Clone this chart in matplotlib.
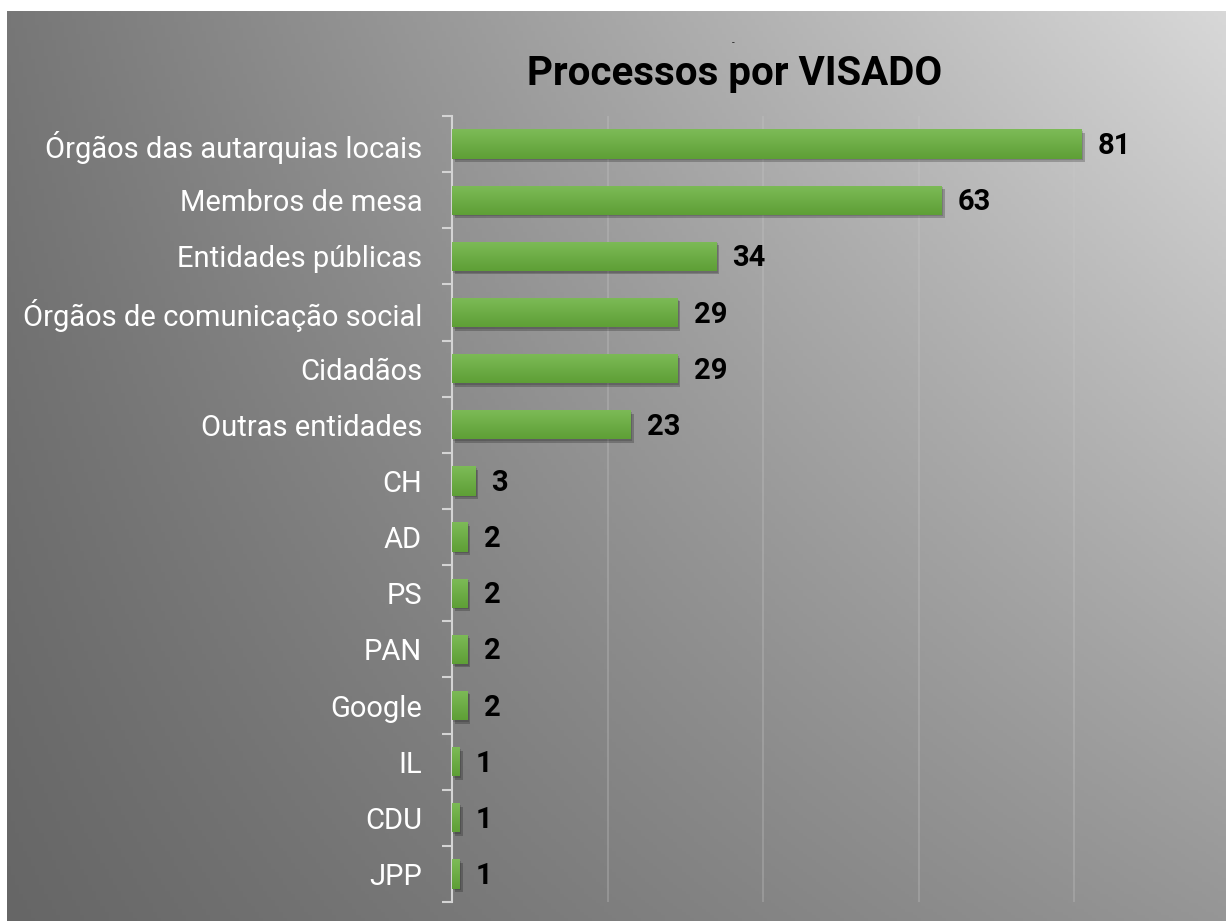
#!/usr/bin/env python
# -*- coding: utf-8 -*-
"""
Horizontal bar chart: Processos por VISADO.
"""

import numpy as np
import matplotlib
matplotlib.use("Agg")
import matplotlib.pyplot as plt
import matplotlib.patheffects as pe
from matplotlib.colors import LinearSegmentedColormap

categories = ["Órgãos das autarquias locais", "Membros de mesa", "Entidades públicas",
              "Órgãos de comunicação social", "Cidadãos", "Outras entidades",
              "CH", "AD", "PS", "PAN", "Google", "IL", "CDU", "JPP"]
values = [81, 63, 34, 29, 29, 23, 3, 2, 2, 2, 2, 1, 1, 1]
grid_ticks = [20, 40, 60, 80]
title = "Processos por VISADO"

plt.rcParams['font.family'] = ['Roboto', 'DejaVu Sans']

W, H = 1226, 921
fig = plt.figure(figsize=(W / 100, H / 100), dpi=100)
fig.patch.set_facecolor("white")

# Background gradient panel (bilinear between the four corner greys)
bg = fig.add_axes([7 / W, 0, 1 - 7 / W, 1 - 11 / H], zorder=0)
xs = np.linspace(0, 1, 300)
ys = np.linspace(0, 1, 300)
gx, gy = np.meshgrid(xs, ys)
tl, tr, bl, br = 0x77, 0xd8, 0x66, 0x96
grey = (tl * (1 - gx) * (1 - gy) + tr * gx * (1 - gy)
        + bl * (1 - gx) * gy + br * gx * gy) / 255.0
bg.imshow(np.dstack([grey, grey, grey]), aspect="auto", extent=(0, 1, 1, 0))
bg.set_axis_off()

# Main axes
ax = fig.add_axes([452 / W, 19 / H, 700 / W, (902 - 116) / H], zorder=1)
ax.patch.set_alpha(0)
n = len(categories)
pos = np.arange(n)
bars = ax.barh(pos, values, height=0.52, color="#6aad45", zorder=3)

# green vertical gradient inside each bar + soft shadow
green = LinearSegmentedColormap.from_list("g", ["#7dbb57", "#5e9f36"])
grad = np.linspace(0, 1, 64).reshape(-1, 1)
for b in bars:
    b.set_path_effects([pe.SimplePatchShadow(offset=(2, -2.5), shadow_rgbFace="black", alpha=0.22),
                        pe.SimplePatchShadow(offset=(1, -1.2), shadow_rgbFace="black", alpha=0.15),
                        pe.Normal()])
    x0, y0 = b.get_x(), b.get_y()
    im = ax.imshow(grad, cmap=green, aspect="auto", zorder=4,
                   extent=(x0, x0 + b.get_width(), y0 + b.get_height(), y0))
    im.set_clip_path(b)
ax.set_xlim(0, 90)
ax.set_ylim(n - 0.5, -0.5)

for i, v in enumerate(values):
    ax.annotate(str(v), (v, i), xytext=(11.5, -1.5), textcoords="offset points",
                ha="left", va="center", fontsize=21, fontweight="bold", color="black",
                zorder=5)

# grid
ax.set_xticks(grid_ticks)
ax.set_xticklabels([])
ax.tick_params(axis="x", length=0)
ax.xaxis.grid(True, color="#c8c8c8", alpha=0.35, linewidth=1.2, zorder=0)
ax.set_axisbelow(True)

# y axis: ticks at boundaries, labels at centres
ax.set_yticks(np.arange(n + 1) - 0.5)
ax.set_yticklabels([])
ax.tick_params(axis="y", which="major", length=7.5, width=1.5, color="#d4d4d4", direction="out")
ax.set_yticks(pos, minor=True)
ax.set_yticklabels(categories, minor=True)
ax.tick_params(axis="y", which="minor", length=0, pad=21.5, labelsize=21, labelcolor="white")

for s in ["top", "right", "bottom"]:
    ax.spines[s].set_visible(False)
ax.spines["left"].set_color("#d4d4d4")
ax.spines["left"].set_linewidth(1.5)

fig.text(735 / W, 1 - 85 / H, title, ha="center", va="baseline",
         fontsize=29, fontweight="bold", color="black")
fig.text(733 / W, 1 - 46 / H, "-", ha="center", va="baseline", fontsize=7, color="#222222")

fig.savefig("out.png", dpi=100, facecolor=fig.get_facecolor())
